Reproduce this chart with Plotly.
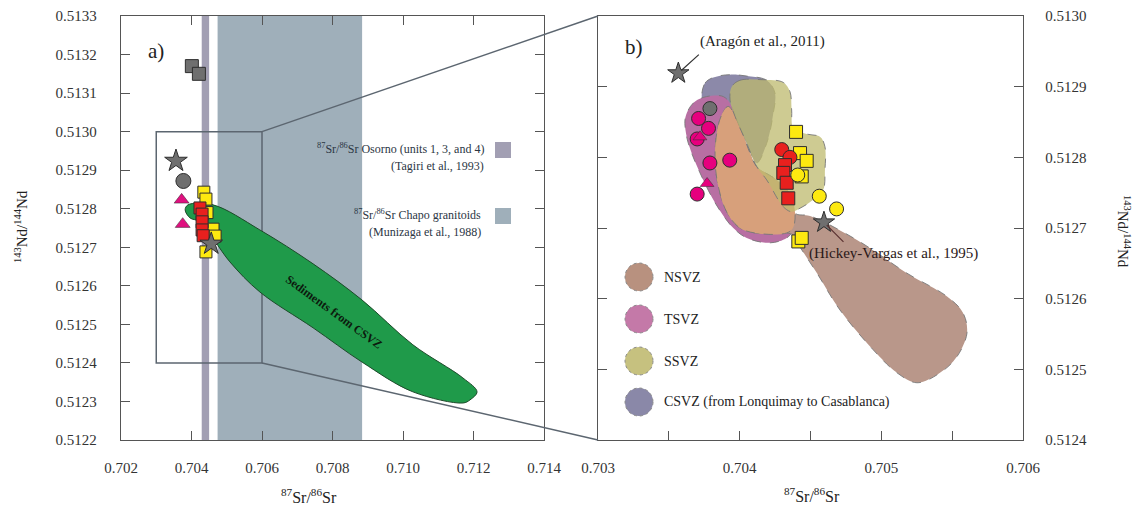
import plotly.graph_objects as go

W, H = 1135, 507
SERIF = "Liberation Serif"

# ---------------- axis ranges ----------------
A_XR = [0.702, 0.714]
A_YR = [0.5122, 0.5133]
B_XR = [0.703, 0.706]
B_YR = [0.5124, 0.5130]
A_XD = [121 / W, 544 / W]
A_YD = [1 - 440 / H, 1 - 16 / H]
B_XD = [598 / W, 1023 / W]
B_YD = [1 - 440 / H, 1 - 16 / H]

# ---------------- panel a data ----------------
a_gray_sq_x = [0.70401, 0.70421]
a_gray_sq_y = [0.51317, 0.51315]
a_star_x = [0.70356, 0.70456]
a_star_y = [0.512924, 0.512709]
a_gray_ci_x = [0.70377]
a_gray_ci_y = [0.512872]
a_tri_x = [0.70372, 0.70375]
a_tri_y = [0.512823, 0.51276]
a_yel_sq_x = [0.70435, 0.70441, 0.70444, 0.70461, 0.70467, 0.70441]
a_yel_sq_y = [0.512843, 0.512825, 0.51279, 0.512747, 0.512729, 0.512688]
a_red_sq_x = [0.70424, 0.70430, 0.70430, 0.70430, 0.70433]
a_red_sq_y = [0.512802, 0.512786, 0.512766, 0.512745, 0.51273]

# Osorno / Chapo Sr ranges
osorno_sr = [0.70429, 0.70450]
chapo_sr = [0.70474, 0.70884]

# Sediments from CSVZ field outline
sed_x = [0.70382, 0.70390, 0.70461, 0.70594, 0.70745, 0.70884, 0.71028, 0.71170, 0.71210,
         0.71190, 0.71170, 0.71028, 0.70884, 0.70745, 0.70594, 0.70509, 0.70424, 0.70396, 0.70382]
sed_y = [0.512797, 0.512810, 0.512810, 0.512745, 0.512657, 0.512563, 0.512447, 0.512361, 0.512325,
         0.512304, 0.512296, 0.512325, 0.512402, 0.512491, 0.512584, 0.512662, 0.512766, 0.512776, 0.512797]

# ---------------- panel b data ----------------
b_star_x = [0.703567, 0.704595]
b_star_y = [0.512919, 0.512708]
b_gray_ci_x = [0.70379]
b_gray_ci_y = [0.512869]
b_mag_ci_x = [0.70371, 0.70378, 0.70370, 0.70379, 0.70393, 0.70370]
b_mag_ci_y = [0.512855, 0.512841, 0.512826, 0.512792, 0.512796, 0.512748]
b_tri_x = [0.70372, 0.70377]
b_tri_y = [0.512829, 0.512763]
b_yel_sq_x = [0.704398, 0.704426, 0.704473, 0.704438, 0.704414, 0.704438]
b_yel_sq_y = [0.512836, 0.512806, 0.512795, 0.512773, 0.512681, 0.512686]
b_red_ci_x = [0.704297, 0.704355]
b_red_ci_y = [0.512811, 0.512800]
b_red_sq_x = [0.704320, 0.704308, 0.704332, 0.704343]
b_red_sq_y = [0.512789, 0.512778, 0.512764, 0.512742]
b_yel_ci_x = [0.70441, 0.704562, 0.704684]
b_yel_ci_y = [0.512775, 0.512745, 0.512727]

# SVZ field outlines
csvz_x = [0.703732, 0.703755, 0.703814, 0.703932, 0.704050, 0.704191, 0.704249, 0.704237,
          0.704191, 0.704120, 0.704050, 0.703967, 0.703920, 0.703861, 0.703743, 0.703732]
csvz_y = [0.512886, 0.512905, 0.512913, 0.512917, 0.512915, 0.512909, 0.512891, 0.512862,
          0.512820, 0.512792, 0.512820, 0.512848, 0.512869, 0.512879, 0.512879, 0.512886]
tsvz_x = [0.703614, 0.703637, 0.703685, 0.703767, 0.703884, 0.703944, 0.704026, 0.704144,
          0.704332, 0.704391, 0.704379, 0.704332, 0.704214, 0.704050, 0.703955, 0.703873,
          0.703803, 0.703720, 0.703661, 0.703626, 0.703614]
tsvz_y = [0.512853, 0.512867, 0.512879, 0.512886, 0.512886, 0.512872, 0.512820, 0.512773,
          0.512735, 0.512716, 0.512697, 0.512686, 0.512679, 0.512686, 0.512700, 0.512721,
          0.512744, 0.512778, 0.512806, 0.512829, 0.512853]
nsvz_x = [0.703920, 0.704002, 0.704073, 0.704120, 0.704261, 0.704355, 0.704391, 0.704497,
          0.704828, 0.705181, 0.705464, 0.705576, 0.705605, 0.705534, 0.705414, 0.705252,
          0.705111, 0.704941, 0.704708, 0.704546, 0.704426, 0.704376, 0.704332, 0.704144,
          0.704002, 0.703908, 0.703849, 0.703826, 0.703838, 0.703873, 0.703920]
nsvz_y = [0.512872, 0.512843, 0.512806, 0.512787, 0.512768, 0.512749, 0.512721, 0.512717,
          0.512683, 0.512636, 0.512603, 0.512580, 0.512552, 0.512518, 0.512495, 0.512481,
          0.512495, 0.512528, 0.512584, 0.512636, 0.512673, 0.512690, 0.512693, 0.512692,
          0.512700, 0.512723, 0.512759, 0.512796, 0.512834, 0.512860, 0.512872]
nsvz_core_x = [0.703920, 0.704002, 0.704073, 0.704120, 0.704261, 0.704355, 0.704391, 0.704376,
               0.704332, 0.704144, 0.704002, 0.703908, 0.703849, 0.703826, 0.703838, 0.703873, 0.703920]
nsvz_core_y = [0.512872, 0.512843, 0.512806, 0.512787, 0.512768, 0.512749, 0.512721, 0.512700,
               0.512693, 0.512692, 0.512700, 0.512723, 0.512759, 0.512796, 0.512834, 0.512860, 0.512872]
ssvz_x = [0.703944, 0.704002, 0.704144, 0.704308, 0.704355, 0.704367, 0.704379, 0.704473,
          0.704567, 0.704602, 0.704602, 0.704590, 0.704520, 0.704426, 0.704367, 0.704308,
          0.704191, 0.704120, 0.704050, 0.703967, 0.703932, 0.703944]
ssvz_y = [0.512900, 0.512909, 0.512910, 0.512906, 0.512893, 0.512867, 0.512841, 0.512833,
          0.512829, 0.512815, 0.512782, 0.512754, 0.512740, 0.512728, 0.512723, 0.512730,
          0.512768, 0.512787, 0.512820, 0.512858, 0.512881, 0.512900]

legend_fields = ["NSVZ", "TSVZ", "SSVZ", "CSVZ (from Lonquimay to Casablanca)"]
legend_colors = ["#b8917f", "#c479a8", "#c6c17f", "#8a88a8"]

# ---------------- figure ----------------
fig = go.Figure()
OUT = "#2e2e2e"


def pts(x, y, sym, color, size, ax="a", lw=1):
    xa, ya = ("x", "y") if ax == "a" else ("x2", "y2")
    fig.add_trace(go.Scatter(x=x, y=y, mode="markers", xaxis=xa, yaxis=ya,
                             marker=dict(symbol=sym, color=color, size=size,
                                         line=dict(color=OUT, width=lw)),
                             showlegend=False, hoverinfo="skip"))


def field(x, y, fill, ax="b", lc="rgba(120,120,120,0.9)", dash="dash"):
    xa, ya = ("x", "y") if ax == "a" else ("x2", "y2")
    fig.add_trace(go.Scatter(x=x, y=y, mode="lines", fill="toself", fillcolor=fill,
                             xaxis=xa, yaxis=ya,
                             line=dict(color=lc, width=1, dash=dash, shape="spline", smoothing=1.0),
                             showlegend=False, hoverinfo="skip"))


# panel a
field(sed_x, sed_y, "#1f9a4a", ax="a", lc="#1d4a2a", dash="solid")
pts(a_gray_sq_x, a_gray_sq_y, "square", "#6f6f6f", 13)
pts(a_gray_ci_x, a_gray_ci_y, "circle", "#6f6f6f", 15)
pts(a_tri_x, a_tri_y, "triangle-up", "#e0107f", 13, lw=0.5)
pts(a_yel_sq_x, a_yel_sq_y, "square", "#fde910", 12)
pts(a_red_sq_x, a_red_sq_y, "square", "#e8201e", 12)
pts(a_star_x, a_star_y, "star", "#6f6f6f", 17)

# panel b fields
field(csvz_x, csvz_y, "#8c89a9")
field(tsvz_x, tsvz_y, "#b86fa3")
field(nsvz_x, nsvz_y, "#b9978a")
field(nsvz_core_x, nsvz_core_y, "#d7a07b")
field(ssvz_x, ssvz_y, "rgba(190,186,110,0.75)")

# panel b points
pts(b_gray_ci_x, b_gray_ci_y, "circle", "#6f6f6f", 14, ax="b")
pts(b_mag_ci_x, b_mag_ci_y, "circle", "#e6007e", 14, ax="b")
pts(b_tri_x, b_tri_y, "triangle-up", "#e6007e", 12, ax="b", lw=0.5)
pts(b_yel_sq_x, b_yel_sq_y, "square", "#fde910", 13, ax="b")
pts(b_red_ci_x, b_red_ci_y, "circle", "#e8201e", 14, ax="b")
pts(b_red_sq_x, b_red_sq_y, "square", "#e8201e", 13, ax="b")
pts(b_yel_ci_x, b_yel_ci_y, "circle", "#fde910", 14, ax="b")
pts(b_star_x, b_star_y, "star", "#6f6f6f", 16, ax="b")


def to_paper(x, y, xr, yr, xd, yd):
    px = xd[0] + (x - xr[0]) / (xr[1] - xr[0]) * (xd[1] - xd[0])
    py = yd[0] + (y - yr[0]) / (yr[1] - yr[0]) * (yd[1] - yd[0])
    return px, py


shapes = []
# bands
shapes.append(dict(type="rect", xref="x", yref="y domain", x0=osorno_sr[0], x1=osorno_sr[1],
                   y0=0, y1=1, fillcolor="#a29fb3", line=dict(width=0), layer="below"))
shapes.append(dict(type="rect", xref="x", yref="y domain", x0=chapo_sr[0], x1=chapo_sr[1],
                   y0=0, y1=1, fillcolor="#9fafba", line=dict(width=0), layer="below"))
# zoom rectangle
shapes.append(dict(type="rect", xref="x", yref="y", x0=B_XR[0], x1=B_XR[1], y0=B_YR[0], y1=B_YR[1],
                   line=dict(color="#5c6670", width=1.5), layer="below"))
# connector lines
for yv in (B_YR[1], B_YR[0]):
    p0 = to_paper(B_XR[1], yv, A_XR, A_YR, A_XD, A_YD)
    p1 = to_paper(B_XR[0], yv, B_XR, B_YR, B_XD, B_YD)
    shapes.append(dict(type="line", xref="paper", yref="paper", x0=p0[0], y0=p0[1], x1=p1[0], y1=p1[1],
                       line=dict(color="#5c6670", width=1.5)))
# legend boxes panel a
for (ytop, col) in ((142, "#a29fb3"), (208, "#9fafba")):
    shapes.append(dict(type="rect", xref="paper", yref="paper", x0=495 / W, x1=511 / W,
                       y0=1 - (ytop + 16) / H, y1=1 - ytop / H, fillcolor=col, line=dict(width=0)))
# legend circles panel b
for i, col in enumerate(legend_colors):
    cy = [277, 319, 361, 402][i]
    shapes.append(dict(type="circle", xref="paper", yref="paper", x0=625 / W, x1=653 / W,
                       y0=1 - (cy + 14) / H, y1=1 - (cy - 14) / H, fillcolor=col,
                       line=dict(color="#8a8a8a", width=1, dash="dot")))

ann = []


def txt(x, y, s, size=14, xanchor="center", color="#222", angle=0, yanchor="middle"):
    ann.append(dict(x=x / W, y=1 - y / H, xref="paper", yref="paper", text=s, showarrow=False,
                    xanchor=xanchor, yanchor=yanchor, textangle=angle,
                    font=dict(family=SERIF, size=size, color=color)))


txt(156, 51, "a)", size=21)
txt(634, 47, "b)", size=21)
txt(486, 149, "<sup>87</sup>Sr/<sup>86</sup>Sr Osorno (units 1, 3, and 4)", size=12, xanchor="right", color="#2b3644")
txt(486, 166, "(Tagiri et al., 1993)", size=12, xanchor="right", color="#2b3644")
txt(483, 215, "<sup>87</sup>Sr/<sup>86</sup>Sr Chapo granitoids", size=12, xanchor="right", color="#2b3644")
txt(483, 232, "(Munizaga et al., 1988)", size=12, xanchor="right", color="#2b3644")
txt(334, 312, "<b>Sediments from CSVZ</b>", size=12, angle=36, color="#0c1a0e")
txt(698, 42, "(Aragón et al., 2011)", size=15, xanchor="left")
txt(807, 253, "(Hickey-Vargas et al., 1995)", size=15, xanchor="left", color="#2a1818")
for i, lab in enumerate(legend_fields):
    txt(662, [277, 319, 361, 402][i], lab, size=14, xanchor="left")
txt(309, 496, "<sup>87</sup>Sr/<sup>86</sup>Sr", size=16)
txt(812, 495, "<sup>87</sup>Sr/<sup>86</sup>Sr", size=16)
txt(21, 227, "<sup>143</sup>Nd/<sup>144</sup>Nd", size=15, angle=-90)
txt(1124, 231, "<sup>143</sup>Nd/<sup>144</sup>Nd", size=15, angle=90)

# arrows to reference stars
ann.append(dict(x=b_star_x[0], y=b_star_y[0], xref="x2", yref="y2", text="", showarrow=True,
                arrowhead=0, arrowwidth=1.2, arrowcolor="#333", ax=22, ay=-20, standoff=4))
ann.append(dict(x=b_star_x[1], y=b_star_y[1], xref="x2", yref="y2", text="", showarrow=True,
                arrowhead=0, arrowwidth=1.2, arrowcolor="#5a3030", ax=21, ay=21, standoff=4))

tickfont = dict(family=SERIF, size=15, color="#333")
axline = dict(showline=True, linecolor="#555", linewidth=1.3, showgrid=False, zeroline=False,
              ticks="inside", ticklen=9, tickcolor="#555", tickwidth=1.2, tickfont=tickfont,
              automargin=False)

b_ticks = [0.703, 0.7035, 0.704, 0.7045, 0.705, 0.7055, 0.706]
b_ticktext = ["0.703", " ", "0.704", " ", "0.705", " ", "0.706"]

fig.update_layout(
    width=W, height=H, autosize=False,
    margin=dict(l=0, r=0, t=0, b=0),
    paper_bgcolor="white", plot_bgcolor="white",
    showlegend=False,
    font=dict(family=SERIF),
    shapes=shapes, annotations=ann,
    xaxis=dict(domain=A_XD, range=A_XR, anchor="y", tick0=0.702, dtick=0.002, tickformat=".3f",
               mirror="ticks", ticklabelstandoff=14, **axline),
    yaxis=dict(domain=A_YD, range=A_YR, anchor="x", tick0=0.5122, dtick=0.0001, tickformat=".4f",
               mirror="ticks", ticklabelstandoff=20, **axline),
    xaxis2=dict(domain=B_XD, range=B_XR, anchor="y2", tickvals=b_ticks, ticktext=b_ticktext,
                mirror=True, ticklabelstandoff=14, **axline),
    yaxis2=dict(domain=B_YD, range=B_YR, anchor="x2", side="right", tick0=0.5124, dtick=0.0001,
                tickformat=".4f", mirror="ticks", ticklabelstandoff=18, **axline),
)

fig.write_html("out.html")
